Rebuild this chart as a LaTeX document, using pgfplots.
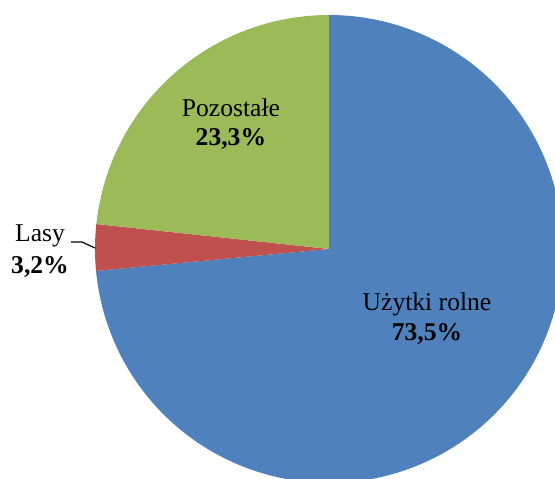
\documentclass[border=0pt]{standalone}
\usepackage{fontspec}
\setmainfont{Liberation Serif}
\usepackage{pgfplots}
\usepackage{pgfplotstable}
\pgfplotsset{compat=1.18}
\definecolor{pieblue}{HTML}{4F81BD}
\definecolor{piered}{HTML}{C0504D}
\definecolor{piegreen}{HTML}{9BBB59}

% shares in percent, clockwise from 12 o'clock
\pgfplotstableread{
share
73.5
3.2
23.3
}\piedata

\begin{document}
\begin{tikzpicture}
\pgfplotstablegetelem{0}{share}\of\piedata \let\sA\pgfplotsretval
\pgfplotstablegetelem{1}{share}\of\piedata \let\sB\pgfplotsretval
\pgfplotstablegetelem{2}{share}\of\piedata \let\sC\pgfplotsretval
\pgfmathsetmacro\aA{90-3.6*\sA}
\pgfmathsetmacro\aB{\aA-3.6*\sB}
\pgfmathsetmacro\aC{\aB-3.6*\sC}
\begin{axis}[
    width=277.5pt, height=239pt, scale only axis,
    xmin=-1.406, xmax=0.966, ymin=-0.979, ymax=1.064,
    hide axis, clip=true,
]
\addplot[fill=pieblue, draw=none, domain=\aA:90, samples=150, variable=\t]
    ({cos(\t)},{sin(\t)}) -- (axis cs:0,0) -- cycle;
\addplot[fill=piered, draw=none, domain=\aB:\aA, samples=20, variable=\t]
    ({cos(\t)},{sin(\t)}) -- (axis cs:0,0) -- cycle;
\addplot[fill=piegreen, draw=none, domain=\aC:\aB, samples=60, variable=\t]
    ({cos(\t)},{sin(\t)}) -- (axis cs:0,0) -- cycle;

\begin{scope}[every node/.style={font=\fontsize{12.8}{15}\selectfont, anchor=base, inner sep=0pt}]
\node at (axis cs:-0.419,0.564) {Pozostałe};
\node at (axis cs:-0.419,0.444) {\bfseries 23,3\%};
\node at (axis cs:0.419,-0.261) {Użytki rolne};
\node at (axis cs:0.419,-0.393) {\bfseries 73,5\%};
\node at (axis cs:-1.235,0.030) {Lasy};
\node at (axis cs:-1.235,-0.103) {\bfseries 3,2\%};
\end{scope}
\draw[black, line width=0.6pt] (axis cs:-1.103,0.030) -- (axis cs:-1.056,0.030) -- (axis cs:-1.0,0.004);
\end{axis}
\pgfresetboundingbox
\path (current axis.south west) rectangle (current axis.north east);
\end{tikzpicture}
\end{document}
